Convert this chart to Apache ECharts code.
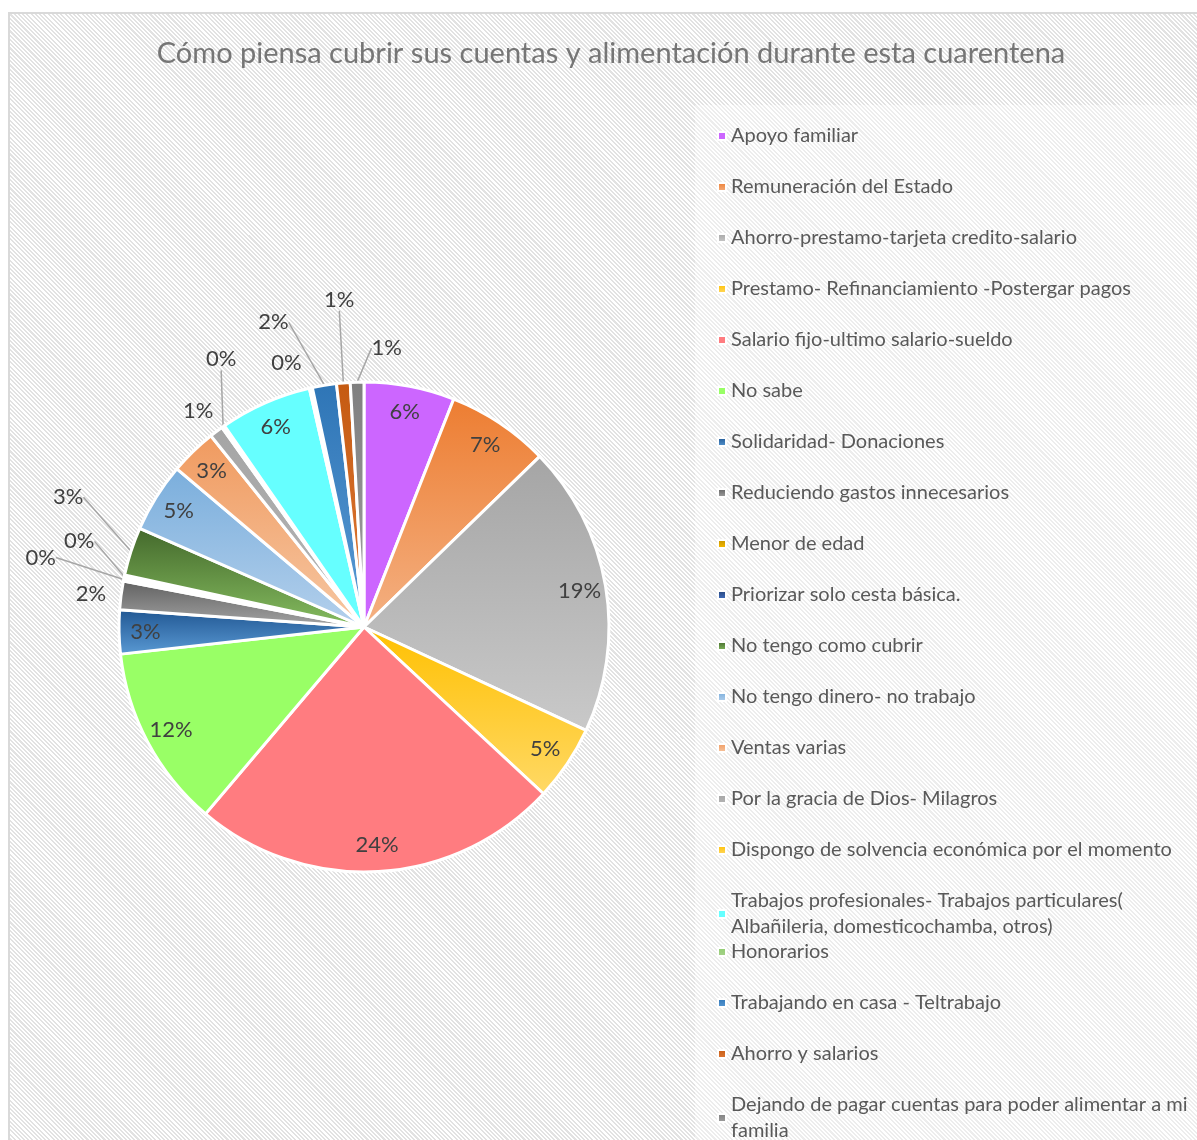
<!DOCTYPE html>
<html>
<head>
<meta charset="utf-8">
<title>Cómo piensa cubrir sus cuentas</title>
<script src="https://cdn.jsdelivr.net/npm/echarts@6/dist/echarts.min.js"></script>
<style>
html, body { margin: 0; padding: 0; background: #ffffff; }
#wrap { position: relative; width: 1197px; height: 1140px; overflow: hidden; }
#frame {
    position: absolute; left: 8px; top: 12px; width: 1200px; height: 1140px;
    border: 2px solid #d9d9d9; box-sizing: border-box;
    background: repeating-linear-gradient(45deg, #ffffff 0px, #ffffff 1.5px, #e2e2e2 1.5px, #e2e2e2 3px);
}
#legendbg { position: absolute; left: 695px; top: 105px; width: 510px; height: 1040px; background: rgba(255,255,255,0.4); }
#chartbox { position: absolute; left: 0; top: 0; width: 1197px; height: 1140px; }
</style>
</head>
<body>
<div id="wrap">
    <div id="frame"></div>
    <div id="legendbg"></div>
    <div id="chartbox"></div>
</div>
<script>
// data (percent of answers)
const categories = [
    "Apoyo familiar",
    "Remuneración del Estado",
    "Ahorro-prestamo-tarjeta credito-salario",
    "Prestamo- Refinanciamiento -Postergar pagos",
    "Salario fijo-ultimo salario-sueldo",
    "No sabe",
    "Solidaridad- Donaciones",
    "Reduciendo gastos innecesarios",
    "Menor de edad",
    "Priorizar solo cesta básica.",
    "No tengo como cubrir",
    "No tengo dinero- no trabajo",
    "Ventas varias",
    "Por la gracia de Dios- Milagros",
    "Dispongo de solvencia económica por el momento",
    "Trabajos profesionales- Trabajos particulares( Albañileria, domesticochamba, otros)",
    "Honorarios",
    "Trabajando en casa - Teltrabajo",
    "Ahorro y salarios",
    "Dejando de pagar cuentas para poder alimentar a mi familia"
];
const values = [6.0, 6.8, 19.3, 5.0, 24.4, 12.1, 2.9, 1.9, 0.2, 0.2, 3.2, 4.6, 3.1, 0.9, 0.2, 6.1, 0.2, 1.6, 0.9, 0.9];

// slice fills: [top, bottom] of a vertical gradient
const sliceColors = [
    ["#cc66ff", "#cc66ff"],
    ["#ed7d31", "#f4b183"],
    ["#a5a5a5", "#c9c9c9"],
    ["#ffc000", "#ffd966"],
    ["#ff7c80", "#ff7c80"],
    ["#99ff66", "#99ff66"],
    ["#1f5591", "#5b9bd5"],
    ["#5f5f5f", "#a6a6a6"],
    ["#bf9000", "#ffc000"],
    ["#264478", "#4472c4"],
    ["#43682b", "#86bd60"],
    ["#7aaedc", "#b4d0ec"],
    ["#f09a5f", "#f6c7a3"],
    ["#a5a5a5", "#b5b5b5"],
    ["#ffc000", "#ffd966"],
    ["#66ffff", "#66ffff"],
    ["#8fce6e", "#a9d18e"],
    ["#2e75b6", "#5b9bd5"],
    ["#c55a11", "#e07b39"],
    ["#7f7f7f", "#a0a0a0"]
];

// slices whose label sits outside the pie: [shift x, shift y, show leader line]
const outsideLabels = {
    7: [0, 0, false],
    8: [-53, -20, true],
    9: [-15, -33, true],
    10: [-33, -51, true],
    13: [8, -13, false],
    14: [24, -59, true],
    16: [-2, -15, false],
    17: [-29, -53, true],
    18: [17, -73, true],
    19: [50, -24, true]
};

const fontName = "Lato, 'Open Sans', sans-serif";
const legendWraps = {
    "Trabajos profesionales- Trabajos particulares( Albañileria, domesticochamba, otros)":
        "Trabajos profesionales- Trabajos particulares(\nAlbañileria, domesticochamba, otros)",
    "Dejando de pagar cuentas para poder alimentar a mi familia":
        "Dejando de pagar cuentas para poder alimentar a mi\nfamilia"
};

const grad = (c) => new echarts.graphic.LinearGradient(0, 0, 0, 1, [
    { offset: 0, color: c[0] },
    { offset: 1, color: c[1] }
]);

var myChart = echarts.init(document.getElementById("chartbox"), null, { renderer: "canvas" });

const pieData = categories.map((name, i) => ({
    name: name,
    value: values[i],
    itemStyle: { color: grad(sliceColors[i]) }
}));

const labelData = categories.map((name, i) => {
    const item = { name: name, value: values[i] };
    const o = outsideLabels[i];
    if (o) {
        item.label = { position: "outside" };
        item.labelLine = { show: o[2], length: 10, length2: 0 };
    }
    return item;
});

const legends = categories.map((name, i) => ({
    data: [name],
    orient: "vertical",
    left: 717,
    top: 123 + i * 51,
    padding: 0,
    icon: "rect",
    itemWidth: 8,
    itemHeight: 8,
    formatter: (n) => legendWraps[n] || n,
    textStyle: {
        fontFamily: fontName,
        fontSize: 20,
        color: "#595959",
        lineHeight: 26
    }
}));

let option = {
    animation: false,
    title: {
        text: "Cómo piensa cubrir sus cuentas y alimentación durante esta cuarentena",
        left: 606,
        top: 34,
        textAlign: "center",
        textStyle: {
            fontFamily: fontName,
            fontSize: 29,
            fontWeight: "normal",
            color: "#767676"
        }
    },
    legend: legends,
    series: [
        {
            name: "slices",
            type: "pie",
            center: [364, 627],
            radius: [0, 245],
            startAngle: 90,
            clockwise: true,
            label: { show: false },
            labelLine: { show: false },
            itemStyle: { borderColor: "#ffffff", borderWidth: 3 },
            emphasis: { scale: false },
            data: pieData
        },
        {
            name: "labels",
            type: "pie",
            silent: true,
            center: [364, 627],
            radius: [186, 245],
            startAngle: 90,
            clockwise: true,
            avoidLabelOverlap: false,
            itemStyle: { color: "rgba(0,0,0,0)", borderWidth: 0 },
            label: {
                show: true,
                position: "inside",
                fontFamily: fontName,
                fontSize: 22,
                color: "#404040",
                formatter: (p) => Math.round(p.percent) + "%"
            },
            labelLine: {
                lineStyle: { color: "#a6a6a6", width: 1.5 },
                smooth: false
            },
            labelLayout: function (p) {
                const o = outsideLabels[p.dataIndex];
                if (!o || (o[0] === 0 && o[1] === 0)) {
                    return {};
                }
                return {
                    x: p.labelRect.x + p.labelRect.width + o[0],
                    y: p.labelRect.y + p.labelRect.height / 2 + o[1]
                };
            },
            data: labelData
        }
    ]
};
option && myChart.setOption(option);
window.addEventListener("resize", function () {
    myChart.resize();
});
</script>
</body>
</html>
